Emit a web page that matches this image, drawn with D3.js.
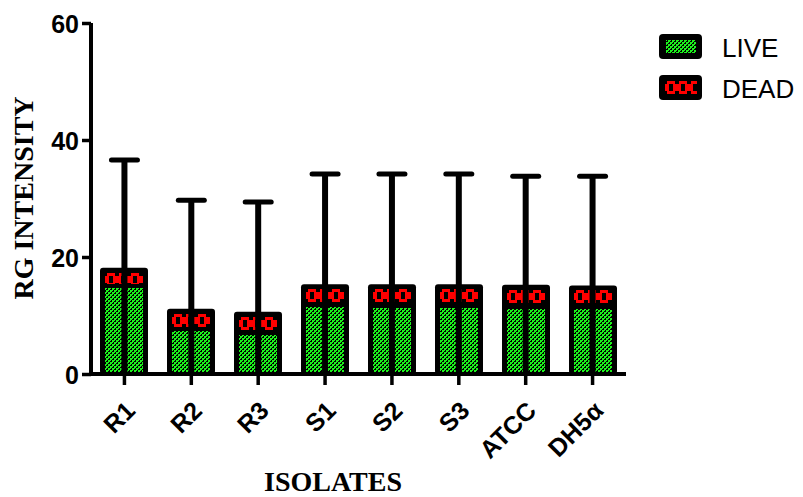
<!DOCTYPE html>
<html>
<head>
<meta charset="utf-8">
<script src="https://cdn.jsdelivr.net/npm/d3@7/dist/d3.min.js"></script>
<style>
  html, body { margin: 0; padding: 0; background: #fff; }
  svg { display: block; }
  pattern rect { shape-rendering: crispEdges; }
</style>
</head>
<body>
<svg id="chart" width="803" height="497"></svg>
<script>
// Isolates and stacked intensities (LIVE at the bottom, DEAD on top), with SD above the stack
const isolates = ["R1", "R2", "R3", "S1", "S2", "S3", "ATCC", "DH5α"];
const liveValues = [15.0, 7.7, 7.0, 11.8, 11.6, 11.7, 11.5, 11.5];
const deadValues = [2.8, 3.1, 3.3, 3.2, 3.4, 3.3, 3.4, 3.3];
const sdValues = [18.8, 18.9, 19.1, 19.2, 19.2, 19.2, 18.9, 19.0];
const yTicks = [0, 20, 40, 60];
const seriesNames = ["LIVE", "DEAD"];

const GREEN = "#1cf01c";
const RED = "#ff0000";

const svg = d3.select("#chart");
const defs = svg.append("defs");

const x = d3.scaleBand().domain(isolates).range([91, 626]).paddingInner(0.28).paddingOuter(0.14);
const y = d3.scaleLinear().domain([0, 60]).range([374, 23]);

// Green checkerboard
const gp = defs.append("pattern").attr("id", "livePat")
  .attr("patternUnits", "userSpaceOnUse").attr("width", 4).attr("height", 4);
gp.append("rect").attr("width", 4).attr("height", 4).attr("fill", "#000");
gp.append("rect").attr("width", 2).attr("height", 2).attr("fill", GREEN);
gp.append("rect").attr("x", 2).attr("y", 2).attr("width", 2).attr("height", 2).attr("fill", GREEN);
gp.append("rect").attr("x", 2).attr("y", 0).attr("width", 1).attr("height", 1).attr("fill", GREEN);
gp.append("rect").attr("x", 0).attr("y", 2).attr("width", 1).attr("height", 1).attr("fill", GREEN);

// Red chain-link motif, anchored at a given top edge
function deadPattern(id, x0, y0) {
  const p = defs.append("pattern").attr("id", id)
    .attr("patternUnits", "userSpaceOnUse")
    .attr("x", x0).attr("y", y0).attr("width", 12).attr("height", 60);
  p.append("rect").attr("width", 12).attr("height", 60).attr("fill", "#000");
  p.append("rect").attr("x", 0).attr("y", 3).attr("width", 12).attr("height", 7).attr("fill", RED);
  p.append("rect").attr("x", 2).attr("y", 0).attr("width", 8).attr("height", 13).attr("fill", RED);
  p.append("rect").attr("x", 4).attr("y", 3).attr("width", 4).attr("height", 7).attr("fill", "#000");
}

const rows = isolates.map((name, i) => ({
  name, i,
  live: liveValues[i],
  total: liveValues[i] + deadValues[i],
  sd: sdValues[i]
}));

const bw = Math.round(x.bandwidth());
const inset = 5;

// Error bars (drawn first, the stem continues through the bar)
const eb = svg.append("g");
rows.forEach(d => {
  const cx = x(d.name) + x.bandwidth() / 2;
  eb.append("line").attr("x1", cx).attr("x2", cx)
    .attr("y1", y(0)).attr("y2", y(d.total + d.sd))
    .attr("stroke", "#000").attr("stroke-width", 6);
  eb.append("line").attr("x1", cx - 13).attr("x2", cx + 13)
    .attr("y1", y(d.total + d.sd)).attr("y2", y(d.total + d.sd))
    .attr("stroke", "#000").attr("stroke-width", 5).attr("stroke-linecap", "round");
});

const bars = svg.append("g");
rows.forEach(d => {
  const cx = x(d.name) + x.bandwidth() / 2;
  const x0 = Math.round(cx - bw / 2);
  // black body
  bars.append("rect").attr("x", x0).attr("y", y(d.total) - 2)
    .attr("width", bw).attr("height", y(0) - y(d.total) + 2)
    .attr("rx", 3).attr("fill", "#000");
  // LIVE segment
  const liveTop = Math.round(y(d.live) + 2);
  bars.append("rect").attr("x", x0 + inset).attr("y", liveTop)
    .attr("width", bw - 2 * inset).attr("height", y(0) - liveTop)
    .attr("fill", "url(#livePat)");
  // DEAD segment
  const id = "deadPat" + d.i;
  const top = Math.round(y(d.total) + 3);
  deadPattern(id, x0 + inset, top);
  bars.append("rect").attr("x", x0 + inset).attr("y", top)
    .attr("width", bw - 2 * inset).attr("height", Math.max(0, liveTop - 4 - top))
    .attr("fill", "url(#" + id + ")");
  // stem through the bar
  bars.append("line").attr("x1", cx).attr("x2", cx)
    .attr("y1", y(d.total)).attr("y2", y(0))
    .attr("stroke", "#000").attr("stroke-width", 6);
});

// Axes
const yAxis = svg.append("g").attr("transform", "translate(91,0)")
  .call(d3.axisLeft(y).tickValues(yTicks).tickSize(9).tickPadding(3));
const xAxis = svg.append("g").attr("transform", "translate(0,374)")
  .call(d3.axisBottom(x).tickSize(11).tickPadding(6));

[yAxis, xAxis].forEach(g => {
  g.select(".domain").remove();
  g.selectAll(".tick line").attr("stroke", "#000").attr("stroke-width", 3.5);
  g.selectAll("text").attr("fill", "#000")
    .attr("font-family", "'Liberation Sans', Arial, sans-serif")
    .attr("font-weight", "bold").attr("font-size", 25);
});
yAxis.selectAll("text").attr("dy", "0.36em");
xAxis.selectAll("text")
  .attr("text-anchor", "end")
  .attr("transform", "translate(6,32) rotate(-45)")
  .attr("dy", "0.35em").attr("y", 0).attr("x", 0);

// axis lines
svg.append("line").attr("x1", 91).attr("x2", 91).attr("y1", y(60)).attr("y2", y(0) + 2)
  .attr("stroke", "#000").attr("stroke-width", 4);
svg.append("line").attr("x1", 89).attr("x2", 626).attr("y1", y(0)).attr("y2", y(0))
  .attr("stroke", "#000").attr("stroke-width", 4);

// Axis titles
svg.append("text").attr("transform", "translate(33,198) rotate(-90)")
  .attr("text-anchor", "middle")
  .attr("font-family", "'Liberation Serif', 'Times New Roman', serif")
  .attr("font-weight", "bold").attr("font-size", 28)
  .text("RG INTENSITY");
svg.append("text").attr("x", 333).attr("y", 491)
  .attr("text-anchor", "middle")
  .attr("font-family", "'Liberation Serif', 'Times New Roman', serif")
  .attr("font-weight", "bold").attr("font-size", 28)
  .text("ISOLATES");

// Legend
const legend = svg.append("g");
seriesNames.forEach((name, i) => {
  const ly = 34 + i * 41;
  legend.append("rect").attr("x", 659).attr("y", ly).attr("width", 43).attr("height", 25)
    .attr("rx", 4).attr("fill", "#000");
  if (i === 0) {
    legend.append("rect").attr("x", 666).attr("y", ly + 6).attr("width", 30).attr("height", 13)
      .attr("fill", "url(#livePat)");
  } else {
    deadPattern("deadPatLegend", 665, ly + 6);
    legend.append("rect").attr("x", 665).attr("y", ly + 6).attr("width", 32).attr("height", 13)
      .attr("fill", "url(#deadPatLegend)");
  }
  legend.append("text").attr("x", 722).attr("y", ly + 23)
    .attr("font-family", "'Liberation Sans', Arial, sans-serif")
    .attr("font-size", 26).attr("fill", "#000")
    .text(name);
});
</script>
</body>
</html>
